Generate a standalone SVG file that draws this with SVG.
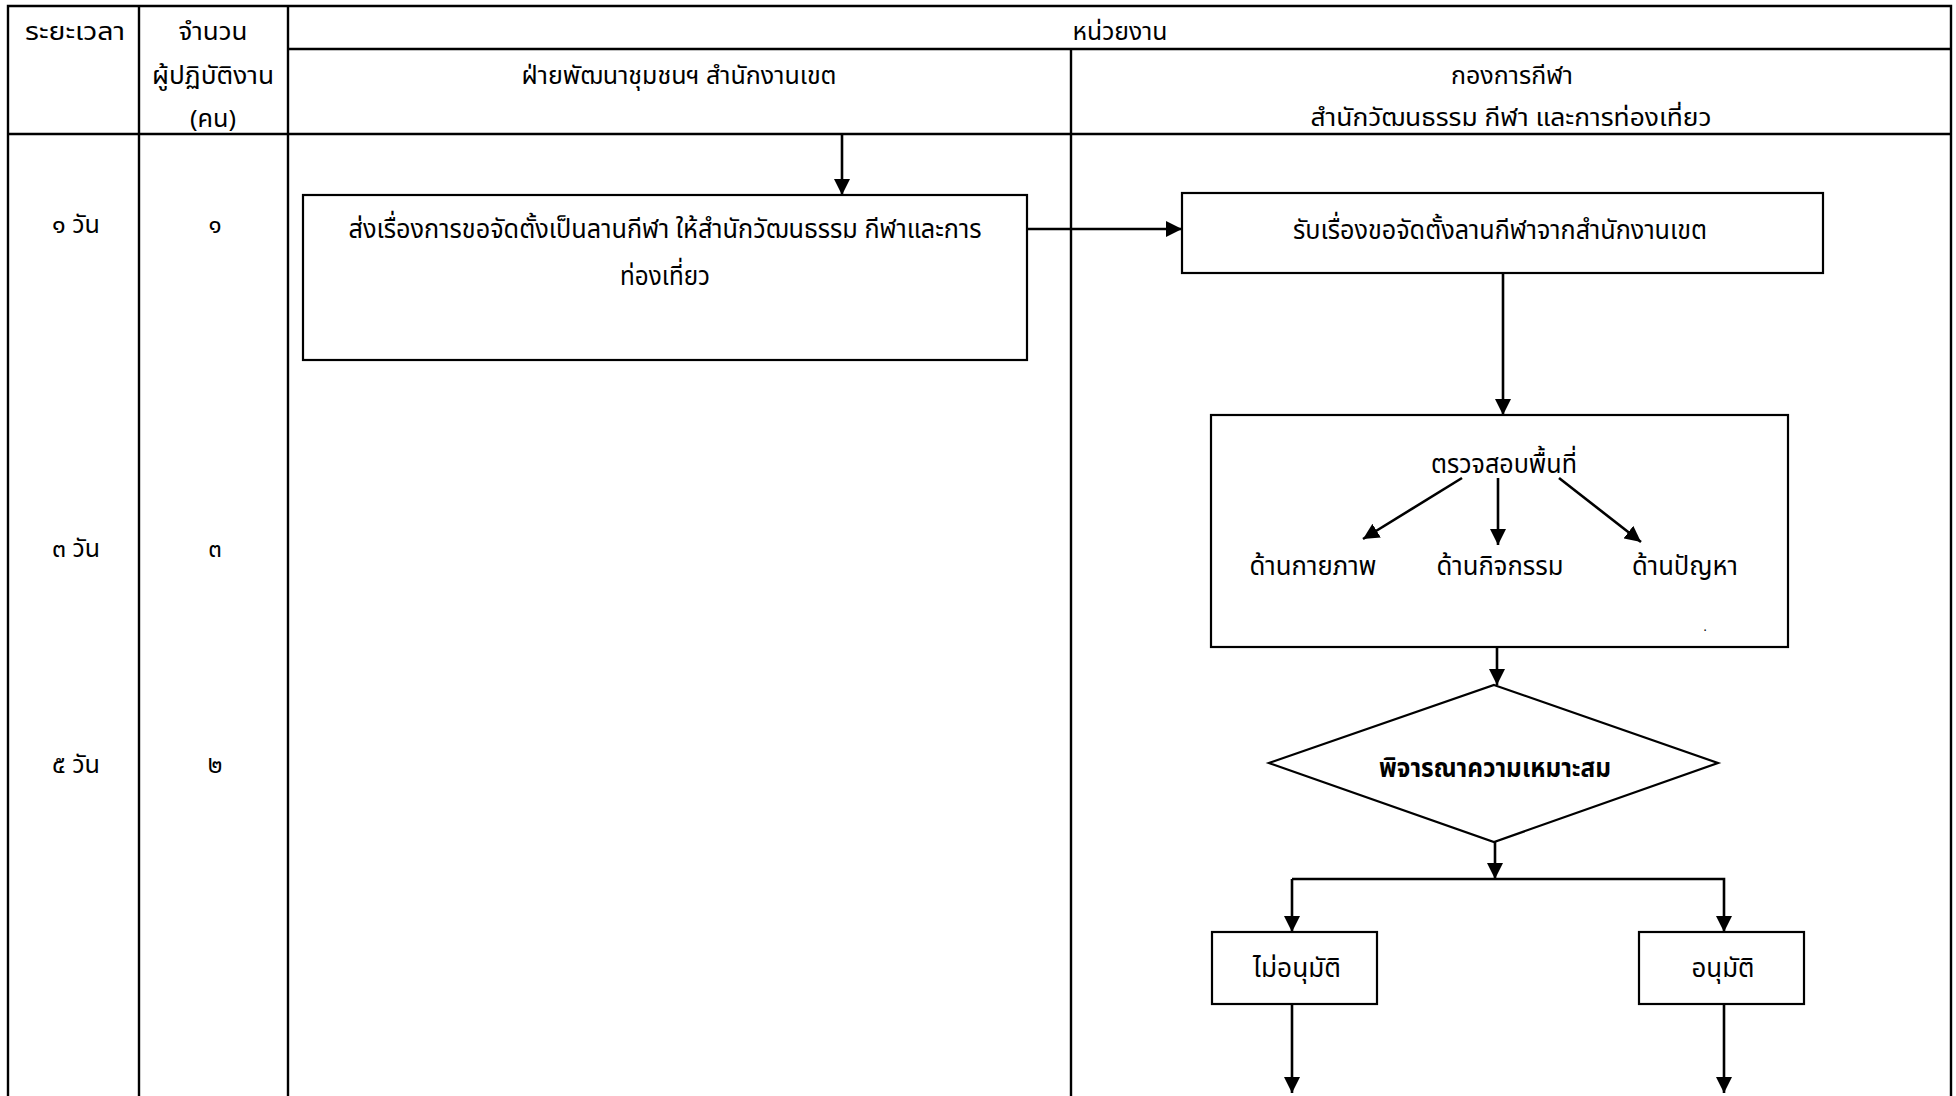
<svg xmlns="http://www.w3.org/2000/svg" width="1956" height="1096" viewBox="0 0 1956 1096">
<style>
text{font-family:"Noto Sans Thai","Noto Sans","DejaVu Sans",sans-serif;fill:#000;text-anchor:middle}
.h{font-size:24px}
.b{font-size:27px}
.bold{font-weight:bold}
.grid{stroke:#000;stroke-width:2.4;fill:none}
.box{stroke:#000;stroke-width:2.2;fill:#fff}
.conn{stroke:#000;stroke-width:2.6;fill:none}
</style>
<defs>
<marker id="ah" viewBox="0 0 16 16" refX="16" refY="8" markerWidth="16" markerHeight="16" markerUnits="userSpaceOnUse" orient="auto">
<path d="M0,0 L16,8 L0,16 z" fill="#000"/>
</marker>
</defs>
<rect width="1956" height="1096" fill="#fff"/>
<g id="table">
<path class="grid" d="M8,1096 V6 H1951 V1096 M139,6 V1096 M288,6 V1096 M288,49 H1951 M1071,49 V1096 M8,134 H1951"/>
<text class="h" x="75" y="40" textLength="100" lengthAdjust="spacingAndGlyphs">ระยะเวลา</text>
<text class="h" x="213" y="40" textLength="69" lengthAdjust="spacingAndGlyphs">จำนวน</text>
<text class="h" x="213" y="84" textLength="122" lengthAdjust="spacingAndGlyphs">ผู้ปฏิบัติงาน</text>
<text class="h" x="213" y="127" textLength="46" lengthAdjust="spacingAndGlyphs">(คน)</text>
<text class="h" x="1120" y="40" textLength="95" lengthAdjust="spacingAndGlyphs">หน่วยงาน</text>
<text class="h" x="679" y="84" textLength="315" lengthAdjust="spacingAndGlyphs">ฝ่ายพัฒนาชุมชนฯ สำนักงานเขต</text>
<text class="h" x="1512" y="84" textLength="122" lengthAdjust="spacingAndGlyphs">กองการกีฬา</text>
<text class="h" x="1511" y="126" textLength="401" lengthAdjust="spacingAndGlyphs">สำนักวัฒนธรรม  กีฬา  และการท่องเที่ยว</text>
<text class="h" x="76" y="233" textLength="48" lengthAdjust="spacingAndGlyphs">๑ วัน</text>
<text class="h" x="215" y="233">๑</text>
<text class="h" x="76" y="557" textLength="48" lengthAdjust="spacingAndGlyphs">๓ วัน</text>
<text class="h" x="215" y="557">๓</text>
<text class="h" x="76" y="773" textLength="48" lengthAdjust="spacingAndGlyphs">๕ วัน</text>
<text class="h" x="215" y="773">๒</text>
</g>
<g id="connectors">
<line class="conn" x1="842" y1="134" x2="842" y2="195" marker-end="url(#ah)"/>
<line class="conn" x1="1027" y1="229" x2="1182" y2="229" marker-end="url(#ah)"/>
<line class="conn" x1="1503" y1="273" x2="1503" y2="415" marker-end="url(#ah)"/>
<line class="conn" x1="1462" y1="478" x2="1363" y2="539" marker-end="url(#ah)"/>
<line class="conn" x1="1498" y1="478" x2="1498" y2="545" marker-end="url(#ah)"/>
<line class="conn" x1="1559" y1="478" x2="1641" y2="542" marker-end="url(#ah)"/>
<line class="conn" x1="1497" y1="647" x2="1497" y2="685" marker-end="url(#ah)"/>
<line class="conn" x1="1495" y1="842" x2="1495" y2="879" marker-end="url(#ah)"/>
<path class="conn" d="M1292,879 H1724 V932" marker-end="url(#ah)"/>
<line class="conn" x1="1292" y1="879" x2="1292" y2="932" marker-end="url(#ah)"/>
<line class="conn" x1="1292" y1="1004" x2="1292" y2="1093" marker-end="url(#ah)"/>
<line class="conn" x1="1724" y1="1004" x2="1724" y2="1093" marker-end="url(#ah)"/>
</g>
<g id="node-send">
<rect class="box" x="303" y="195" width="724" height="165"/>
<text class="b" x="665" y="238" textLength="633" lengthAdjust="spacingAndGlyphs">ส่งเรื่องการขอจัดตั้งเป็นลานกีฬา ให้สำนักวัฒนธรรม กีฬาและการ</text>
<text class="b" x="665" y="285" textLength="90" lengthAdjust="spacingAndGlyphs">ท่องเที่ยว</text>
</g>
<g id="node-receive">
<rect class="box" x="1182" y="193" width="641" height="80"/>
<text class="b" x="1500" y="239" textLength="414" lengthAdjust="spacingAndGlyphs">รับเรื่องขอจัดตั้งลานกีฬาจากสำนักงานเขต</text>
</g>
<g id="node-inspect">
<rect class="box" x="1211" y="415" width="577" height="232" style="fill:none"/>
<text class="b" x="1504" y="473" textLength="146" lengthAdjust="spacingAndGlyphs">ตรวจสอบพื้นที่</text>
<text class="b" x="1313" y="575" textLength="127" lengthAdjust="spacingAndGlyphs">ด้านกายภาพ</text>
<text class="b" x="1500" y="575" textLength="127" lengthAdjust="spacingAndGlyphs">ด้านกิจกรรม</text>
<text class="b" x="1685" y="575" textLength="106" lengthAdjust="spacingAndGlyphs">ด้านปัญหา</text>
<text x="1705" y="631" style="font-size:12px">.</text>
</g>
<g id="node-decide">
<polygon class="box" points="1494,685 1718,763 1494,842 1269,763"/>
<text class="b bold" x="1495" y="777" textLength="232" lengthAdjust="spacingAndGlyphs">พิจารณาความเหมาะสม</text>
</g>
<g id="node-reject">
<rect class="box" x="1212" y="932" width="165" height="72"/>
<text class="b" x="1297" y="977" textLength="88" lengthAdjust="spacingAndGlyphs">ไม่อนุมัติ</text>
</g>
<g id="node-approve">
<rect class="box" x="1639" y="932" width="165" height="72"/>
<text class="b" x="1723" y="977" textLength="63" lengthAdjust="spacingAndGlyphs">อนุมัติ</text>
</g>
</svg>
